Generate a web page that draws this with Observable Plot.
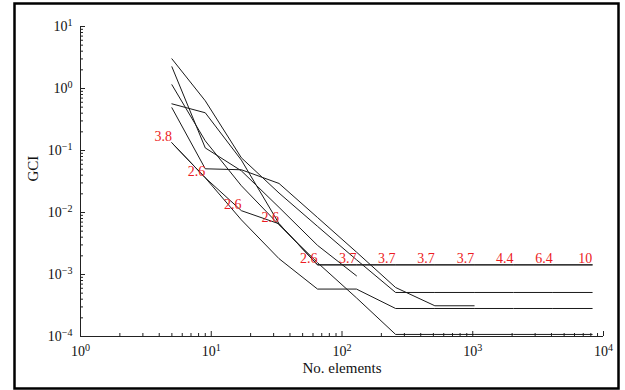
<!DOCTYPE html>
<html><head><meta charset="utf-8">
<script src="https://cdn.jsdelivr.net/npm/d3@7"></script>
<script src="https://cdn.jsdelivr.net/npm/@observablehq/plot@0.6"></script>
<style>body{margin:0;background:#fff}</style>
</head><body><div id="chart"></div>
<script>
// number of elements (refinement levels)
const elements = [5, 9, 17, 33, 65, 129, 257, 513, 1025, 2049, 4097, 8193];
// GCI series
const seriesA = [3.01, 0.633, 0.0762, 0.0206, 0.00598, 0.00173, 0.000513, 0.000513, 0.000513, 0.000513, 0.000513, 0.000513];
const seriesB = [2.24, 0.11, 0.047, 0.0121, 0.00295, 0.000953];
const seriesC = [1.15, 0.143, 0.027, 0.00633, 0.00155, 0.000420, 0.000108, 0.000108, 0.000108, 0.000108, 0.000108, 0.000108];
const seriesD = [0.566, 0.406, 0.07, 0.0066, 0.00143, 0.00143, 0.00143, 0.00143, 0.00143, 0.00143, 0.00143, 0.00143];
const seriesE = [0.489, 0.0507, 0.0489, 0.0294, 0.0083, 0.0023, 0.000617, 0.000313, 0.000313];
const seriesF = [0.133, 0.0363, 0.0107, 0.00657, 0.00143, 0.00143, 0.00143, 0.00143, 0.00143, 0.00143, 0.00143, 0.00143];
const seriesG = [0.133, 0.0363, 0.0076, 0.0018, 0.000582, 0.000582, 0.000283, 0.000283, 0.000283, 0.000283, 0.000283, 0.000283];
// observed orders of convergence written along series F
const orderLabels = ["3.8", "2.6", "2.6", "2.6", "2.6", "3.7", "3.7", "3.7", "3.7", "4.4", "6.4", "10"];
// axis ticks
const xMajor = [1, 10, 100, 1000, 10000];
const yMajor = [1e-4, 1e-3, 1e-2, 1e-1, 1, 10];
const xMinor = [];
for (let d = 1; d < 10000; d *= 10) for (let k = 2; k <= 9; k++) xMinor.push(k * d);
const yMinor = [];
for (let d = 1e-4; d < 9; d *= 10) for (let k = 2; k <= 9; k++) yMinor.push(k * d);

const seriesList = {A: seriesA, B: seriesB, C: seriesC, D: seriesD, E: seriesE, F: seriesF, G: seriesG};
const table = Object.entries(seriesList).flatMap(([name, vals]) =>
  vals.map((v, i) => ({s: name, n: elements[i], gci: v})));
const labelled = seriesF.map((v, i) => ({n: elements[i], gci: v, t: orderLabels[i]}));

const serif = "'Liberation Serif', 'DejaVu Serif', serif";
const fmt = d => "10^" + Math.round(Math.log10(d));

const chart = Plot.plot({
  width: 625, height: 390,
  marginLeft: 80, marginRight: 22, marginTop: 26, marginBottom: 54,
  style: {fontFamily: serif, fontSize: "14px", color: "#111", background: "#fff"},
  x: {type: "log", domain: [1, 10000]},
  y: {type: "log", domain: [1e-4, 10]},
  marks: [
    Plot.frame({insetLeft: -66, insetRight: -15, insetTop: -23, insetBottom: -52, stroke: "#000", strokeWidth: 2.5}),
    Plot.ruleY([1e-4], {stroke: "#222"}),
    Plot.ruleX([1], {stroke: "#222"}),
    Plot.axisX(xMinor, {tickSize: -3, tickFormat: () => "", label: null, stroke: "#222"}),
    Plot.axisX(xMajor, {tickSize: -5, tickFormat: () => "", label: null, stroke: "#222"}),
    Plot.axisX(xMajor, {tickSize: 0, tickPadding: 10, tickFormat: fmt, label: null, fontSize: 14}),
    Plot.axisY(yMinor, {tickSize: -3, tickFormat: () => "", label: null, stroke: "#222"}),
    Plot.axisY(yMajor, {tickSize: -5, tickFormat: () => "", label: null, stroke: "#222"}),
    Plot.axisY(yMajor, {tickSize: 0, tickPadding: 8, tickFormat: fmt, label: null, fontSize: 14}),
    Plot.line(table, {x: "n", y: "gci", z: "s", stroke: "#1a1a1a", strokeWidth: 1}),
    Plot.text(labelled, {x: "n", y: "gci", text: "t", fill: "#ec1c24", textAnchor: "end", lineAnchor: "bottom", dy: -2, fontSize: 14}),
    Plot.text(["No. elements"], {frameAnchor: "bottom", dy: 36, text: d => d, fontSize: 15}),
    Plot.text(["GCI"], {frameAnchor: "left", dx: -47, rotate: -90, text: d => d, fontSize: 15})
  ]
});

d3.select(chart).selectAll("text").each(function() {
  const m = /^10\^(-?\d+)$/.exec(this.textContent);
  if (!m) return;
  const el = d3.select(this);
  el.text(null);
  el.append("tspan").text("10");
  el.append("tspan").attr("dy", "-0.5em").attr("font-size", "0.72em").text(m[1].replace("-", "\u2212"));
});

document.getElementById("chart").appendChild(chart);
</script>
</body></html>
